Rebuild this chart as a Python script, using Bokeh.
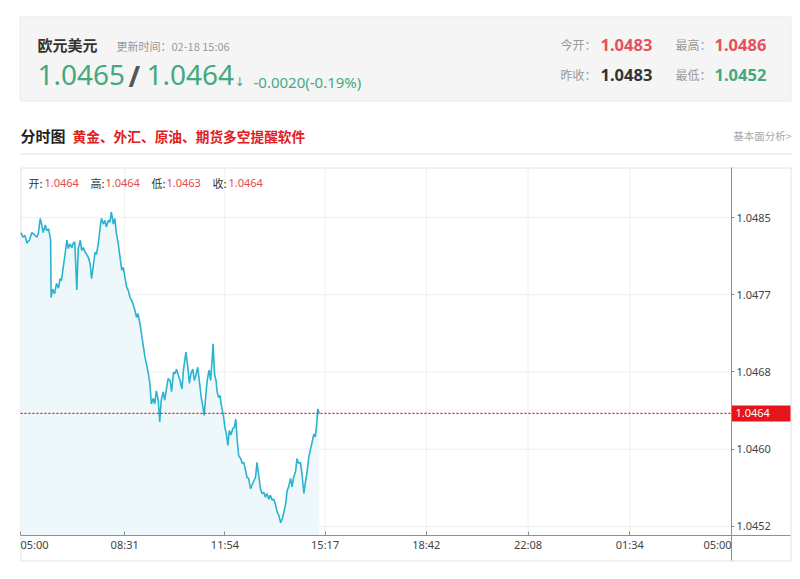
from bokeh.plotting import figure
from bokeh.models import Range1d, FixedTicker, PrintfTickFormatter, LinearAxis
from bokeh.core.properties import value
from bokeh.embed import file_html
from bokeh.resources import INLINE

# ---------------- data ----------------
minutes_since_0500 = [
    1, 5, 9, 13, 18, 23, 28, 33, 36, 40,
    43, 46, 50, 53, 57, 60, 61, 62, 65, 69,
    73, 77, 80, 83, 87, 90, 94, 97, 100, 104,
    107, 110, 114, 117, 121, 124, 127, 131, 134, 137,
    141, 144, 147, 151, 154, 158, 161, 164, 168, 171,
    174, 178, 181, 184, 188, 191, 194, 198, 201, 205,
    208, 211, 215, 218, 222, 225, 228, 232, 235, 238,
    242, 245, 248, 252, 255, 259, 262, 265, 269, 272,
    275, 279, 282, 285, 289, 292, 295, 299, 303, 306,
    310, 313, 316, 320, 323, 327, 330, 335, 339, 342,
    345, 349, 352, 355, 359, 362, 366, 369, 372, 375,
    378, 382, 385, 388, 390, 393, 396, 398, 401, 404,
    407, 411, 414, 417, 420, 423, 426, 430, 433, 436,
    439, 442, 446, 449, 452, 456, 459, 462, 466, 469,
    473, 476, 479, 483, 486, 489, 493, 496, 499, 503,
    506, 510, 513, 516, 520, 523, 527, 530, 533, 537,
    540, 543, 547, 550, 553, 557, 560, 563, 567, 570,
    574, 577, 580, 584, 587, 590, 594, 597, 600, 602,
    605,
]
prices = [
    1.04832, 1.04827, 1.04829, 1.04821, 1.04824, 1.04832, 1.04830, 1.04827, 1.04831, 1.04847,
    1.04840, 1.04832, 1.04840, 1.04834, 1.04836, 1.04827, 1.04824, 1.04763, 1.04772, 1.04767,
    1.04778, 1.04773, 1.04783, 1.04781, 1.04797, 1.04808, 1.04824, 1.04815, 1.04820, 1.04816,
    1.04821, 1.04822, 1.04771, 1.04815, 1.04824, 1.04813, 1.04816, 1.04811, 1.04809, 1.04806,
    1.04799, 1.04783, 1.04795, 1.04811, 1.04809, 1.04822, 1.04836, 1.04847, 1.04841, 1.04845,
    1.04838, 1.04845, 1.04843, 1.04854, 1.04841, 1.04847, 1.04832, 1.04820, 1.04808, 1.04792,
    1.04795, 1.04786, 1.04774, 1.04771, 1.04763, 1.04760, 1.04756, 1.04749, 1.04742, 1.04746,
    1.04735, 1.04725, 1.04714, 1.04700, 1.04693, 1.04682, 1.04672, 1.04650, 1.04656, 1.04650,
    1.04664, 1.04654, 1.04631, 1.04654, 1.04663, 1.04654, 1.04664, 1.04677, 1.04675, 1.04663,
    1.04684, 1.04682, 1.04687, 1.04680, 1.04675, 1.04666, 1.04686, 1.04705, 1.04689, 1.04672,
    1.04682, 1.04687, 1.04675, 1.04680, 1.04689, 1.04675, 1.04657, 1.04648, 1.04638, 1.04657,
    1.04675, 1.04686, 1.04675, 1.04696, 1.04714, 1.04682, 1.04675, 1.04664, 1.04657, 1.04659,
    1.04648, 1.04638, 1.04625, 1.04618, 1.04606, 1.04622, 1.04617, 1.04624, 1.04625, 1.04634,
    1.04611, 1.04595, 1.04592, 1.04587, 1.04588, 1.04579, 1.04572, 1.04571, 1.04560, 1.04564,
    1.04569, 1.04572, 1.04588, 1.04572, 1.04560, 1.04555, 1.04556, 1.04551, 1.04555, 1.04549,
    1.04553, 1.04548, 1.04549, 1.04544, 1.04535, 1.04532, 1.04524, 1.04528, 1.04534, 1.04544,
    1.04558, 1.04562, 1.04571, 1.04562, 1.04572, 1.04578, 1.04592, 1.04587, 1.04588, 1.04576,
    1.04555, 1.04567, 1.04576, 1.04594, 1.04601, 1.04608, 1.04618, 1.04615, 1.04629, 1.04645,
    1.04640,
]

x_tick_minutes = [0, 211, 414, 617, 822, 1028, 1234, 1440]
x_tick_labels = ["05:00", "08:31", "11:54", "15:17", "18:42", "22:08", "01:34", "05:00"]
y_tick_values = [1.04520, 1.04602, 1.04684, 1.04766, 1.04848]
y_min, y_max = 1.045104, 1.049011

instrument = "欧元美元"
update_time = "更新时间：02-18 15:06"
bid_price = "1.0465"
ask_price = "1.0464"
change_text = "-0.0020(-0.19%)"
stat_labels = ["今开：", "最高：", "昨收：", "最低："]
stat_values = ["1.0483", "1.0486", "1.0483", "1.0452"]
ohlc_labels = ["开:", "高:", "低:", "收:"]
ohlc_values = ["1.0464", "1.0464", "1.0463", "1.0464"]
title_main = "分时图"
title_ad = "黄金、外汇、原油、期货多空提醒软件"
title_link = "基本面分析>"

GREEN = "#45a97f"
RED = "#e8505b"
CJK = "Noto Sans CJK SC"
NUM = "Noto Sans"
AX = "#8e8e8e"
GRID = "#eeeeee"

# ---------------- geometry (page pixels) ----------------
W, H = 795, 572
CL, CR, CT, CB = 20, 731, 167, 535      # plotting area of the chart
BOX_R, BOX_B = 790, 560                 # outer chart box
t0, t1 = x_tick_minutes[0], x_tick_minutes[-1]
kx = (t1 - t0) / (CR - CL)
ky = (y_max - y_min) / (CB - CT)

p = figure(width=W, height=H,
           x_range=Range1d(t0 - CL * kx, t1 + (W - CR) * kx),
           y_range=Range1d(y_min - (H - CB) * ky, y_max + CT * ky),
           x_axis_type=None, y_axis_type=None, output_backend="svg",
           toolbar_location=None, tools="", min_border=0)
p.outline_line_color = None
p.background_fill_color = "white"
p.border_fill_color = "white"
p.extra_x_ranges = {"page": Range1d(0, W)}
p.extra_y_ranges = {"page": Range1d(H, 0)}
PG = dict(x_range_name="page", y_range_name="page")


def txt(x, y, s, size, color, font=CJK, style="normal", align="left", **kw):
    args = dict(PG)
    args.update(kw)
    p.text(x=[x], y=[y], text=[s], text_font=value(font), text_font_size=value(size),
           text_font_style=value(style), text_color=color, text_baseline="middle",
           text_align=align, **args)


# ---------------- header ----------------
p.quad(left=[19.5], right=[790.5], top=[16.5], bottom=[100.5],
       fill_color="#f5f5f5", line_color="#ebebeb", **PG)
txt(37, 44, instrument, "15px", "#333333", style="bold")
txt(116, 45, update_time, "11px", "#999999")
txt(37, 74, bid_price, "28px", GREEN, font=NUM)
txt(128, 75, "/", "28px", "#555555", font=NUM, style="bold")
txt(146, 74, ask_price, "28px", GREEN, font=NUM)
txt(234, 81, "↓", "12px", GREEN, font="DejaVu Sans")
txt(253, 81, change_text, "15px", GREEN, font=NUM)

stat_pos = [(560, 44, 600, 44), (675, 44, 714, 44), (560, 74, 600, 74), (675, 74, 714, 74)]
stat_colors = [RED, RED, "#333333", GREEN]
for (lx, ly, vx, vy), lab, val, col in zip(stat_pos, stat_labels, stat_values, stat_colors):
    txt(lx, ly, lab, "12px", "#999999")
    txt(vx, vy, val, "16.5px", col, font=NUM, style="bold")

txt(20, 135, title_main, "15px", "#222222", style="bold")
txt(72, 135, title_ad, "13.7px", "#e0201f", style="bold")
txt(791, 135, title_link, "10.5px", "#a8a8a8", align="right")
p.segment(x0=[20], y0=[153.5], x1=[792], y1=[153.5], line_color="#e0e0e0", **PG)

# ---------------- chart ----------------
p.quad(left=[20.5], right=[BOX_R + 0.5], top=[CT + 0.5], bottom=[BOX_B + 0.5],
       fill_alpha=0, line_color="#e2e2e2", **PG)

# grid lines at the tick positions
inner_x = x_tick_minutes[1:-1]
p.segment(x0=inner_x, y0=[y_min] * len(inner_x), x1=inner_x, y1=[y_max] * len(inner_x),
          line_color=GRID, line_width=1)
p.segment(x0=[t0] * len(y_tick_values), y0=y_tick_values, x1=[t1] * len(y_tick_values),
          y1=y_tick_values, line_color=GRID, line_width=1)

p.varea(x=minutes_since_0500, y1=y_min, y2=prices, fill_color="#eef8fb", fill_alpha=1)
p.line(minutes_since_0500, prices, line_color="#2bb3cf", line_width=1.6)

last = prices[-1]
p.segment(x0=[t0], y0=[last], x1=[t1], y1=[last], line_color="#f01010",
          line_dash="2 2", line_width=1.2)

# axes drawn at fixed positions inside the box
ya = LinearAxis(fixed_location=t1, ticker=FixedTicker(ticks=y_tick_values),
                formatter=PrintfTickFormatter(format="%.4f"),
                bounds=(y_min - (BOX_B - CB) * ky, y_max))
ya.axis_line_color = AX
ya.major_tick_line_color = AX
ya.major_tick_in = 0
ya.major_tick_out = 3
ya.minor_tick_line_color = None
ya.major_label_standoff = 2
ya.major_label_text_font = NUM
ya.major_label_text_font_size = "11px"
ya.major_label_text_color = "#444444"
p.add_layout(ya, "right")

overrides = {m: lab for m, lab in zip(x_tick_minutes, x_tick_labels)}
overrides[t0] = ""
overrides[t1] = ""
xa = LinearAxis(fixed_location=y_min, ticker=FixedTicker(ticks=x_tick_minutes),
                major_label_overrides=overrides,
                bounds=(t0, t1 + (BOX_R - CR) * kx))
xa.axis_line_color = AX
xa.major_tick_line_color = AX
xa.major_tick_in = 4
xa.major_tick_out = 0
xa.minor_tick_line_color = None
xa.major_label_standoff = 1
xa.major_label_text_font = NUM
xa.major_label_text_font_size = "11px"
xa.major_label_text_color = "#444444"
p.add_layout(xa, "below")

# first / last time labels aligned inward
txt(t0, 544, x_tick_labels[0], "11px", "#444444", font=NUM, x_range_name="default")
txt(t1, 544, x_tick_labels[-1], "11px", "#444444", font=NUM, align="right",
    x_range_name="default")

# last-price tag on the right axis
tag_y = CT + (y_max - last) / ky
p.quad(left=[CR], right=[BOX_R], top=[tag_y - 8], bottom=[tag_y + 8],
       fill_color="#e8141b", line_alpha=0, **PG)
txt(CR + 4, tag_y, f"{last:.4f}", "11px", "white", font=NUM)

# OHLC readout
ohlc_pos = [(28, 44), (90, 105), (151, 166), (212, 228)]
for (lx, vx), lab, val in zip(ohlc_pos, ohlc_labels, ohlc_values):
    txt(lx, 182, lab, "11px", "#333333")
    txt(vx, 182, val, "11px", "#e24b4b", font=NUM)

open("out.html", "w").write(file_html(p, INLINE))
